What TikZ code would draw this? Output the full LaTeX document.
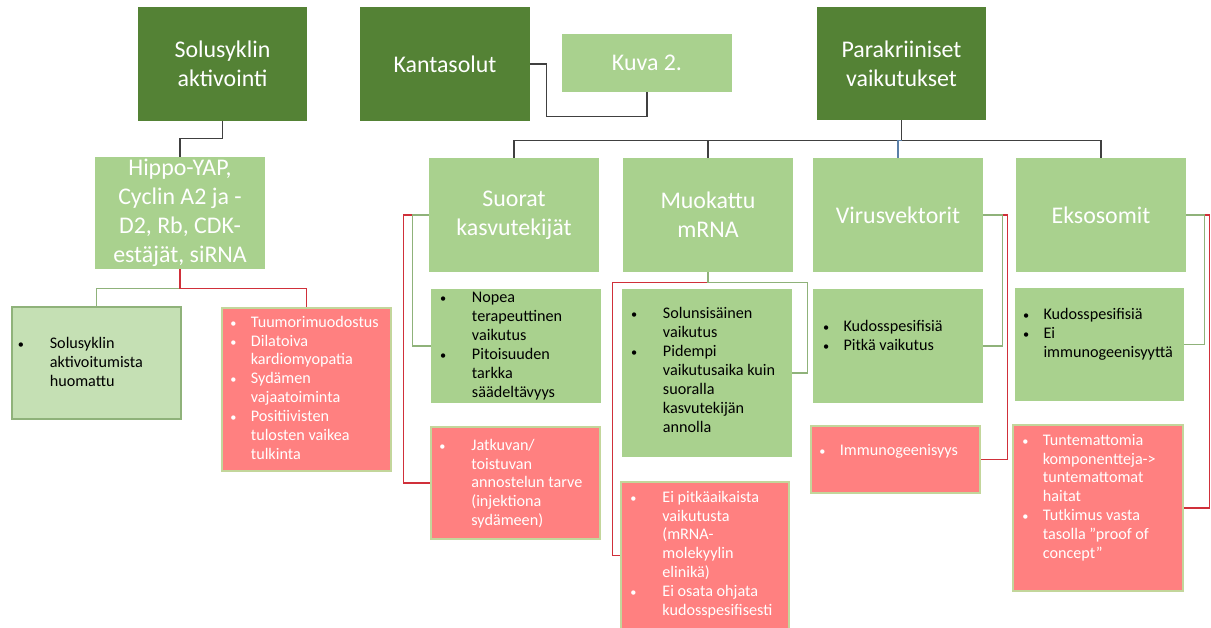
\documentclass[tikz,border=0pt]{standalone}
\usepackage{fontspec}
\setmainfont{Carlito}
\usetikzlibrary{positioning,calc}
\definecolor{tumma}{HTML}{548235}
\definecolor{vaalea}{HTML}{A9D18E}
\definecolor{haalea}{HTML}{C5E0B4}
\definecolor{puna}{HTML}{FF8080}
\definecolor{reuna}{HTML}{C3D69B}
\definecolor{viiva}{HTML}{404040}
\definecolor{punaviiva}{HTML}{D0303A}
\definecolor{vihrviiva}{HTML}{8FB27A}
\definecolor{sinviiva}{HTML}{5A7FA8}
\tikzset{
  koko/.style 2 args={minimum width=#1*0.02cm,minimum height=#2*0.02cm},
  otsikko/.style={inner sep=0pt,fill=tumma,text=white,align=center,
    font=\fontsize{13.6}{16.5}\selectfont},
  ala/.style={otsikko,fill=vaalea},
  plus/.style={inner sep=0pt,fill=vaalea},
  heikko/.style={inner sep=0pt,fill=haalea,draw=vihrviiva,line width=0.6pt},
  miinus/.style={inner sep=0pt,fill=puna,draw=reuna,line width=1.1pt},
  teksti/.style={inner sep=0pt,anchor=base west,font=\fontsize{9.2}{10.8}\selectfont},
  valkoinen/.style={teksti,text=white},
  yhteys/.style={draw=viiva,line width=0.6pt},
  punainen/.style={draw=punaviiva,line width=0.6pt},
  vihrea/.style={draw=vihrviiva,line width=0.6pt},
}
\newcommand{\lista}[2]{\begin{tabular}[t]{@{}p{#1}@{}l@{}}#2\end{tabular}}
\newcommand{\levea}{0.64cm}
\newcommand{\kapea}{0.41cm}
\newcommand{\pallo}{{\fontsize{7}{7}\selectfont\textbullet}}
\begin{document}
\begin{tikzpicture}[x=0.02cm,y=-0.02cm]
  \useasboundingbox (0,0) rectangle (1211,627);
  % ylin taso
  \node[otsikko,koko={169}{114}] (sol) at (222.5,64) {Solusyklin\\aktivointi};
  \node[otsikko,koko={170}{114}] (kanta) at (445,64) {Kantasolut};
  \node[ala,koko={170}{58}] (kuva) at (647,63) {Kuva 2.};
  \node[otsikko,koko={169}{113}] (para) at (901.5,63.5) {Parakriiniset\\vaikutukset};
  % toinen taso
  \node[ala,koko={170}{112}] (hippo) at (180,213) {Hippo-YAP,\\Cyclin A2 ja -\\D2, Rb, CDK-\\estäjät, siRNA};
  \node[ala,koko={170}{114}] (suorat) at (514,215) {Suorat\\kasvutekijät};
  \node[ala,koko={170}{114}] (muok) at (708,215) {Muokattu\\mRNA};
  \node[ala,koko={170}{114}] (virus) at (898,215) {Virusvektorit};
  \node[ala,koko={170}{114}] (eks) at (1101,215) {Eksosomit};
  % hyodyt ja haitat
  \node[heikko,koko={169}{112}] (huom) at (96.5,363) {};
  \node[miinus,koko={169}{163}] (tuum) at (306.5,389.5) {};
  \node[plus,koko={170}{114}] (suorg) at (516,346) {};
  \node[miinus,koko={169}{112}] (jatk) at (515.5,483) {};
  \node[plus,koko={170}{168}] (muokg) at (707,373) {};
  \node[miinus,koko={168}{168}] (muokr) at (705,566) {};
  \node[plus,koko={170}{114}] (virusg) at (898,346) {};
  \node[miinus,koko={169}{67}] (virusr) at (895.5,459.5) {};
  \node[plus,koko={169}{113}] (eksg) at (1099.5,344.5) {};
  \node[miinus,koko={170}{166}] (eksr) at (1098,508) {};

  \node[teksti] (huomt) at ($(huom.north west)+(6,42)$)
    {\lista{\levea}{\pallo & Solusyklin\\ & aktivoitumista\\ & huomattu}};
  \node[valkoinen] (tuumt) at ($(tuum.north west)+(9,20)$)
    {\lista{\kapea}{\pallo & Tuumorimuodostus\\ \pallo & Dilatoiva\\ & kardiomyopatia\\
      \pallo & Sydämen\\ & vajaatoiminta\\ \pallo & Positiivisten\\ & tulosten vaikea\\ & tulkinta}};
  \node[teksti] (suorgt) at ($(suorg.north west)+(9,14)$)
    {\lista{\levea}{\pallo & Nopea\\ & terapeuttinen\\ & vaikutus\\
      \pallo & Pitoisuuden\\ & tarkka\\ & säädeltävyys}};
  \node[valkoinen] (jatkt) at ($(jatk.north west)+(9,24)$)
    {\lista{\levea}{\pallo & Jatkuvan/\\ & toistuvan\\ & annostelun tarve\\ & (injektiona\\ & sydämeen)}};
  \node[teksti] (muokgt) at ($(muokg.north west)+(9,30)$)
    {\lista{\levea}{\pallo & Solunsisäinen\\ & vaikutus\\ \pallo & Pidempi\\
      & vaikutusaika kuin\\ & suoralla\\ & kasvutekijän\\ & annolla}};
  \node[valkoinen] (muokrt) at ($(muokr.north west)+(10,21)$)
    {\lista{\levea}{\pallo & Ei pitkäaikaista\\ & vaikutusta\\ & (mRNA-\\ & molekyylin\\ & elinikä)\\
      \pallo & Ei osata ohjata\\ & kudosspesifisesti}};
  \node[teksti] (virusgt) at ($(virusg.north west)+(10,43)$)
    {\lista{\kapea}{\pallo & Kudosspesifisiä\\ \pallo & Pitkä vaikutus}};
  \node[valkoinen] (virusrt) at ($(virusr.north west)+(9,30)$)
    {\lista{\kapea}{\pallo & Immunogeenisyys}};
  \node[teksti] (eksgt) at ($(eksg.north west)+(8,32)$)
    {\lista{\kapea}{\pallo & Kudosspesifisiä\\ \pallo & Ei\\ & immunogeenisyyttä}};
  \node[valkoinen] (eksrt) at ($(eksr.north west)+(10,21)$)
    {\lista{\kapea}{\pallo & Tuntemattomia\\ & komponentteja->\\ & tuntemattomat\\ & haitat\\
      \pallo & Tutkimus vasta\\ & tasolla ”proof of\\ & concept”}};

  % yhteydet
  \draw[yhteys] (sol.south) |- ($(hippo.north)+(0,-18)$) -- (hippo.north);
  \draw[yhteys] (kanta.east) -- ++(16,0) |- ($(kuva.south)+(0,24)$) -- (kuva.south);
  \draw[yhteys] (para.south) -- ++(0,20) coordinate (haara);
  \foreach \n in {suorat,muok,eks}
    \draw[yhteys] (\n.north) |- (haara);
  \draw[draw=sinviiva,line width=0.6pt] (virus.north) |- (haara);
  \draw[vihrea] (hippo.south) -- ++(0,19) -| (huom.north);
  \draw[punainen] (hippo.south) -- ++(0,19) -| (tuum.north);
  \draw[punainen] (suorat.west) -- ++(-25,0) |- (jatk.west);
  \draw[vihrea] (suorat.west) -- ++(-16,0) |- (suorg.west);
  \draw[punainen] (muok.south) -- ++(0,10) -| ($(muokr.north west)+(-8,74)$) -- ($(muokr.north west)+(0,74)$);
  \draw[vihrea] (muok.south) -- ++(0,10) -| ($(muokg.east)+(15,0)$) -- (muokg.east);
  \draw[punainen] (virus.east) -- ++(24,0) |- (virusr.east);
  \draw[vihrea] (virus.east) -- ++(19,0) |- (virusg.east);
  \draw[punainen] (eks.east) -- ++(23,0) |- (eksr.east);
  \draw[vihrea] (eks.east) -- ++(18,0) |- (eksg.east);
\end{tikzpicture}
\end{document}
